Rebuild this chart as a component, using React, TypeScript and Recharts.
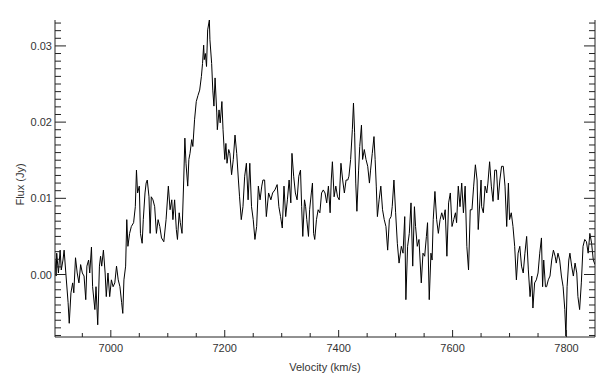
import React from 'react';
import { LineChart, Line, XAxis, YAxis, Label } from 'recharts';

const TITLE = 'MRK0915';
const X_LABEL = 'Velocity (km/s)';
const Y_LABEL = 'Flux (Jy)';

const X_DOMAIN: [number, number] = [6902, 7850];
const Y_DOMAIN: [number, number] = [-0.0082, 0.0334];

const X_MAJOR = [7000, 7200, 7400, 7600, 7800];
const X_TICKS = [6950, 7000, 7050, 7100, 7150, 7200, 7250, 7300, 7350, 7400, 7450, 7500, 7550, 7600, 7650, 7700, 7750, 7800];
const Y_MAJOR = [0.0, 0.01, 0.02, 0.03];
const Y_TICKS = [
  -0.008, -0.007, -0.006, -0.005, -0.004, -0.003, -0.002, -0.001,
  0.0, 0.001, 0.002, 0.003, 0.004, 0.005, 0.006, 0.007, 0.008, 0.009,
  0.01, 0.011, 0.012, 0.013, 0.014, 0.015, 0.016, 0.017, 0.018, 0.019,
  0.02, 0.021, 0.022, 0.023, 0.024, 0.025, 0.026, 0.027, 0.028, 0.029,
  0.03, 0.031, 0.032, 0.033,
];

// [velocity (km/s), flux (Jy)]
const SPECTRUM: [number, number][] = [
  [6902, 0.0019], [6904, -0.0002], [6905, 0.0028], [6908, 0.0002], [6911, 0.0032], [6913, 0.0006], [6916, 0.0019], [6918, 0.0032],
  [6921, 0.0002], [6925, -0.0037], [6927, -0.0064], [6930, -0.0024], [6933, -0.0011], [6935, -0.0024], [6938, 0.0022], [6941, 0.0002],
  [6944, -0.0011], [6947, 0.0013], [6950, 0.0002], [6953, -0.0002], [6956, -0.0033], [6958, 0.0011], [6961, 0.0019], [6963, 0.0002],
  [6966, 0.0036], [6968, -0.0016], [6972, -0.0046], [6974, -0.0016], [6977, -0.0066], [6980, 0.0011], [6982, 0.0024], [6984, 0.0011],
  [6987, 0.0032], [6990, 0.0002], [6992, -0.0029], [6995, 0.0002], [6998, -0.0029], [7001, -0.0007], [7004, -0.0016], [7007, -0.0011],
  [7010, 0.0011], [7013, -0.0007], [7016, -0.0016], [7019, -0.0037], [7021, -0.0051], [7023, -0.0007], [7026, 0.0011], [7028, 0.0072],
  [7030, 0.0037], [7033, 0.0054], [7036, 0.0063], [7040, 0.0068], [7043, 0.0089], [7045, 0.0137], [7047, 0.0107], [7050, 0.0116],
  [7052, 0.0054], [7055, 0.0041], [7057, 0.0072], [7060, 0.0107], [7062, 0.012], [7064, 0.0124], [7067, 0.0102], [7069, 0.0054],
  [7071, 0.0102], [7074, 0.0098], [7077, 0.0089], [7080, 0.0054], [7083, 0.0072], [7086, 0.0063], [7089, 0.0048],
  [7093, 0.0043], [7097, 0.0072], [7101, 0.0116], [7104, 0.0085], [7107, 0.0098], [7109, 0.0072], [7112, 0.0098], [7115, 0.0059],
  [7117, 0.0046], [7120, 0.0081], [7122, 0.0068], [7125, 0.0054], [7128, 0.0124], [7130, 0.0179], [7132, 0.0146], [7135, 0.0116],
  [7137, 0.0151], [7139, 0.0159], [7142, 0.0177], [7144, 0.0168], [7147, 0.0203], [7150, 0.0227], [7153, 0.0235], [7156, 0.0242],
  [7159, 0.026], [7161, 0.0277], [7163, 0.0301], [7164, 0.0282], [7166, 0.029], [7168, 0.0273], [7170, 0.0321], [7173, 0.0334],
  [7174, 0.0308], [7177, 0.0277], [7179, 0.0242], [7181, 0.0221], [7183, 0.0258], [7186, 0.0212], [7187, 0.019], [7190, 0.0216],
  [7192, 0.0199], [7195, 0.0227], [7197, 0.019], [7200, 0.0151], [7202, 0.0172], [7204, 0.0146], [7207, 0.0164], [7209, 0.0159],
  [7212, 0.0131], [7215, 0.0151], [7218, 0.0183], [7221, 0.0159], [7224, 0.0124], [7226, 0.0102], [7229, 0.0072], [7232, 0.0089],
  [7235, 0.0129], [7238, 0.0146], [7241, 0.0098], [7244, 0.0146], [7247, 0.0089], [7250, 0.0072], [7253, 0.0046], [7256, 0.0063],
  [7259, 0.0116], [7262, 0.0098], [7265, 0.0116], [7267, 0.0124], [7270, 0.0124], [7273, 0.0076],
  [7277, 0.0107], [7281, 0.0098], [7284, 0.0107], [7288, 0.0111], [7292, 0.0118], [7295, 0.0089], [7298, 0.0076], [7301, 0.0061],
  [7304, 0.0116], [7307, 0.0076], [7310, 0.0098], [7313, 0.0124], [7316, 0.0094], [7318, 0.0159], [7321, 0.0129], [7324, 0.0107],
  [7327, 0.0098], [7330, 0.0129], [7333, 0.0137], [7335, 0.0089], [7337, 0.005], [7340, 0.0098], [7342, 0.0089], [7344, 0.0072],
  [7347, 0.005], [7349, 0.0085], [7352, 0.0107], [7354, 0.012], [7356, 0.0054], [7358, 0.0046], [7361, 0.0072], [7364, 0.0085],
  [7367, 0.0081], [7370, 0.0107], [7373, 0.0111], [7376, 0.0107], [7379, 0.0094], [7382, 0.0116], [7385, 0.0081], [7387, 0.0124],
  [7389, 0.0148], [7392, 0.0102], [7395, 0.0116], [7398, 0.0102], [7401, 0.0098], [7404, 0.0146], [7407, 0.0124], [7410, 0.0107],
  [7413, 0.0124], [7416, 0.0124], [7418, 0.0129], [7421, 0.0151], [7424, 0.019], [7426, 0.0225], [7428, 0.0186], [7430, 0.012],
  [7432, 0.0083], [7435, 0.0137], [7437, 0.0168], [7440, 0.0196], [7442, 0.0151], [7445, 0.0164], [7448, 0.0151], [7451, 0.0142],
  [7454, 0.012], [7456, 0.0137], [7459, 0.0159], [7462, 0.0181],
  [7464, 0.0151], [7466, 0.0116], [7468, 0.0076], [7471, 0.0098], [7474, 0.0116], [7477, 0.0085], [7480, 0.0072], [7483, 0.0063],
  [7486, 0.0032], [7489, 0.0072], [7492, 0.0076], [7494, 0.0089], [7497, 0.0124], [7500, 0.0081], [7503, 0.0041], [7506, 0.0015],
  [7510, 0.0037], [7513, 0.0028], [7516, 0.0076], [7518, -0.0033], [7521, 0.0037], [7524, 0.0054], [7527, 0.0094], [7530, 0.0011],
  [7533, 0.0089], [7535, 0.0063], [7538, 0.0037], [7541, 0.0046], [7545, -0.0011], [7548, 0.0028], [7551, 0.0024], [7554, 0.005],
  [7556, 0.0068], [7559, -0.0033], [7562, 0.0028], [7564, 0.0019], [7566, 0.0072], [7569, 0.0109], [7572, 0.0072], [7575, 0.0054],
  [7578, 0.0072], [7581, 0.0081], [7584, 0.0072], [7587, 0.0085], [7590, 0.0024], [7593, 0.0094], [7596, 0.0107], [7599, 0.0063],
  [7602, 0.0072], [7605, 0.0081], [7607, 0.0068], [7610, 0.0116], [7613, 0.0089], [7616, 0.012], [7619, 0.0081], [7622, 0.0116],
  [7625, 0.0037], [7628, 0.0006], [7631, 0.0085], [7634, 0.0085], [7637, 0.0116], [7640, 0.0144], [7643, 0.0124], [7645, 0.0059],
  [7650, 0.0124], [7651, 0.0089], [7654, 0.0081], [7657, 0.0116], [7660, 0.0107], [7662, 0.012], [7665, 0.0148], [7668, 0.0116],
  [7671, 0.0096], [7674, 0.0137], [7677, 0.0137], [7680, 0.0098], [7683, 0.0124], [7686, 0.0142], [7689, 0.0142], [7692, 0.0116],
  [7695, 0.0063], [7698, 0.012], [7700, 0.0072], [7703, 0.0081], [7706, 0.0063], [7709, 0.0037], [7712, -0.0007], [7715, 0.0028],
  [7718, 0.0037], [7721, 0.0011], [7724, 0.0002], [7727, 0.0028], [7730, 0.005], [7733, 0.0006], [7736, -0.0029], [7739, -0.0002],
  [7741, -0.0044], [7744, -0.0011], [7747, -0.0007], [7750, 0.0002], [7753, 0.0028], [7756, 0.0048], [7758, -0.0016], [7760, 0.0019],
  [7763, -0.0016], [7765, -0.0016], [7768, -0.0007], [7771, -0.0002], [7774, 0.0019], [7777, 0.0032], [7780, 0.0024], [7782, 0.0015],
  [7785, 0.0028], [7788, 0.0019], [7791, -0.0002], [7794, -0.0016], [7797, -0.0046], [7799, -0.0081], [7801, -0.0016], [7804, 0.0019],
  [7806, 0.0028], [7809, 0.0011], [7812, -0.0002], [7815, 0.0015], [7818, 0.0002], [7820, -0.0029], [7823, -0.0046], [7826, -0.0011],
  [7829, 0.0037], [7832, 0.0046], [7835, 0.0043], [7838, 0.0028], [7841, 0.0054], [7844, 0.0041], [7847, 0.0019], [7850, 0.0013],
];

const data = SPECTRUM.map(([v, f]) => ({ v, f }));

const FONT = '"Liberation Sans", Arial, sans-serif';
const INK = '#222';
const TEXT = '#333';
const FS = 11;

const isMajor = (majors: number[], v: number) => majors.some((m) => Math.abs(m - v) < 1e-9);

const BottomTick = (props: any) => {
  const { x, y, payload } = props;
  const major = isMajor(X_MAJOR, payload.value);
  return (
    <g>
      <line x1={x} y1={y} x2={x} y2={y - (major ? 7 : 4)} stroke={INK} strokeWidth={1} />
      {major && (
        <text x={x} y={y + 11} textAnchor="middle" dominantBaseline="central" fontFamily={FONT} fontSize={FS} fill={TEXT}>
          {payload.value}
        </text>
      )}
    </g>
  );
};

const TopTick = (props: any) => {
  const { x, y, payload } = props;
  const major = isMajor(X_MAJOR, payload.value);
  return <line x1={x} y1={y} x2={x} y2={y + (major ? 7 : 4)} stroke={INK} strokeWidth={1} />;
};

const LeftTick = (props: any) => {
  const { x, y, payload } = props;
  const major = isMajor(Y_MAJOR, payload.value);
  return (
    <g>
      <line x1={x} y1={y} x2={x + (major ? 11 : 6)} y2={y} stroke={INK} strokeWidth={1} />
      {major && (
        <text x={x - 3} y={y} textAnchor="end" dominantBaseline="central" fontFamily={FONT} fontSize={FS} fill={TEXT}>
          {Number(payload.value).toFixed(2)}
        </text>
      )}
    </g>
  );
};

const RightTick = (props: any) => {
  const { x, y, payload } = props;
  const major = isMajor(Y_MAJOR, payload.value);
  return <line x1={x} y1={y} x2={x - (major ? 11 : 6)} y2={y} stroke={INK} strokeWidth={1} />;
};

const TitleLabel = (props: any) => {
  const vb = props.viewBox || { x: 55, y: 20, width: 540 };
  return (
    <text x={vb.x + vb.width / 2} y={vb.y - 12} textAnchor="middle" dominantBaseline="central" fontFamily={FONT} fontSize={FS} fill={TEXT}>
      {TITLE}
    </text>
  );
};

const XTitle = (props: any) => {
  const vb = props.viewBox || { x: 55, y: 337, width: 540 };
  return (
    <text x={vb.x + vb.width / 2} y={vb.y + 30} textAnchor="middle" dominantBaseline="central" fontFamily={FONT} fontSize={FS} fill={TEXT}>
      {X_LABEL}
    </text>
  );
};

const YTitle = (props: any) => {
  const vb = props.viewBox || { x: 0, y: 20, height: 317 };
  const cx = vb.x + 20;
  const cy = vb.y + vb.height / 2 + 6;
  return (
    <text x={cx} y={cy} transform={`rotate(-90, ${cx}, ${cy})`} textAnchor="middle" dominantBaseline="central" fontFamily={FONT} fontSize={FS} fill={TEXT}>
      {Y_LABEL}
    </text>
  );
};

export default function App() {
  return (
    <div style={{ position: 'absolute', left: 0, top: 0, width: 599, height: 378, background: '#fff' }}>
      <LineChart width={599} height={378} data={data} margin={{ top: 20, right: 0, bottom: 0, left: 0 }}>
        <XAxis
          xAxisId="b"
          dataKey="v"
          type="number"
          orientation="bottom"
          domain={X_DOMAIN}
          ticks={X_TICKS}
          interval={0}
          allowDataOverflow
          height={41}
          tickSize={0}
          tickMargin={0}
          tickLine={false}
          axisLine={{ stroke: INK }}
          tick={<BottomTick />}
        >
          <Label content={<XTitle />} />
        </XAxis>
        <XAxis
          xAxisId="t"
          dataKey="v"
          type="number"
          orientation="top"
          domain={X_DOMAIN}
          ticks={X_TICKS}
          interval={0}
          allowDataOverflow
          height={0}
          tickSize={0}
          tickMargin={0}
          tickLine={false}
          axisLine={{ stroke: INK }}
          tick={<TopTick />}
        >
          <Label content={<TitleLabel />} />
        </XAxis>
        <YAxis
          yAxisId="l"
          type="number"
          orientation="left"
          domain={Y_DOMAIN}
          ticks={Y_TICKS}
          interval={0}
          allowDataOverflow
          width={55}
          tickSize={0}
          tickMargin={0}
          tickLine={false}
          axisLine={{ stroke: INK }}
          tick={<LeftTick />}
        >
          <Label content={<YTitle />} />
        </YAxis>
        <YAxis
          yAxisId="r"
          type="number"
          orientation="right"
          domain={Y_DOMAIN}
          ticks={Y_TICKS}
          interval={0}
          allowDataOverflow
          width={4}
          tickSize={0}
          tickMargin={0}
          tickLine={false}
          axisLine={{ stroke: INK }}
          tick={<RightTick />}
        />
        <Line
          xAxisId="b"
          yAxisId="l"
          type="linear"
          dataKey="f"
          stroke="#000"
          strokeWidth={1}
          dot={false}
          activeDot={false}
          isAnimationActive={false}
        />
      </LineChart>
    </div>
  );
}
